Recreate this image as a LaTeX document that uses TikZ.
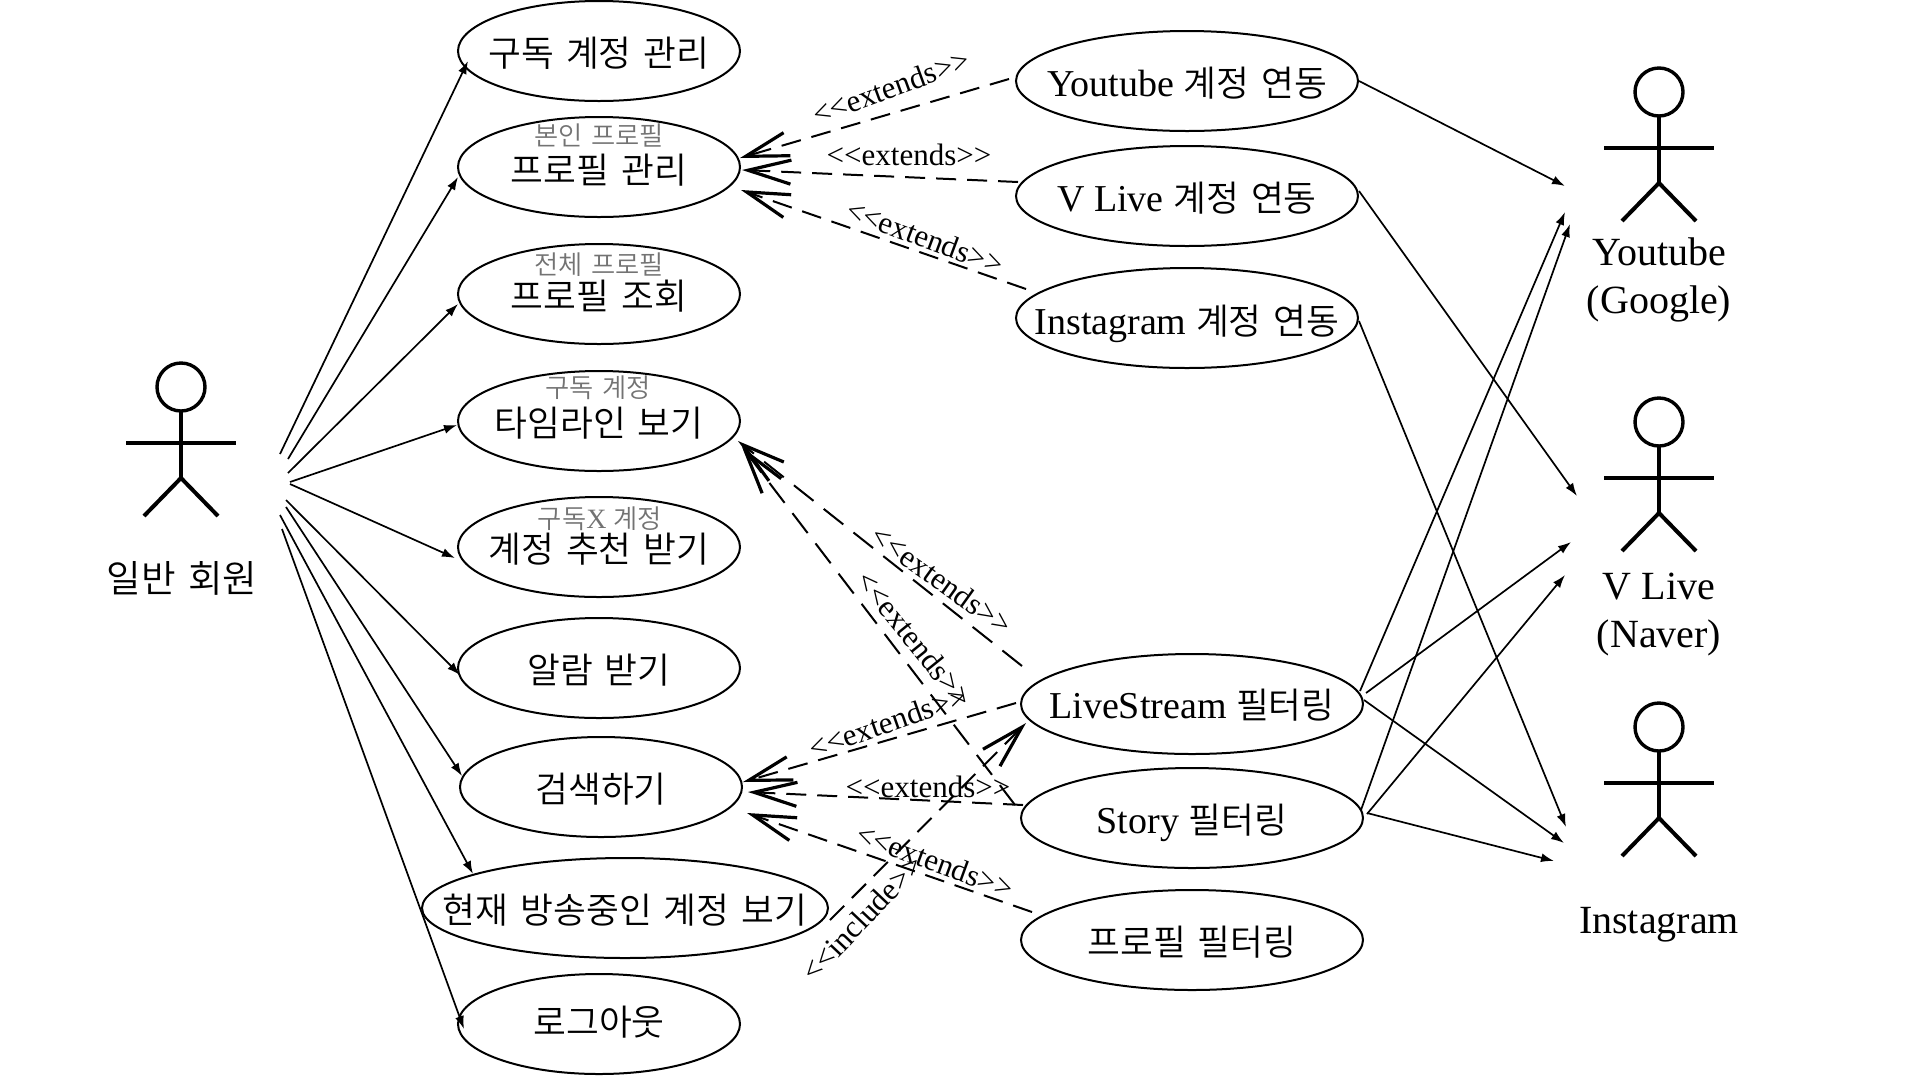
\documentclass[tikz,border=0pt]{standalone}
\usepackage{fontspec}
\usetikzlibrary{shapes.geometric,arrows.meta}
\setmainfont{Liberation Serif}[Ligatures=TeXOff]
\newfontfamily\krf[Scale=0.94,WordSpace=1.5]{Noto Sans CJK KR DemiLight}
\newcommand{\kr}[1]{{\krf #1}}
\newcommand{\tx}[2][15.2pt]{\raisebox{-#1}[0pt][0pt]{\makebox[0pt]{#2}}}
\tikzset{
  uc/.style={ellipse,draw,line width=2pt,inner sep=0pt,minimum height=100pt,font=\fontsize{38}{44}\selectfont},
  ucs/.style={uc,minimum width=282pt},
  ucw/.style={uc,minimum width=342pt},
  sub/.style={font=\fontsize{28}{30}\selectfont,text=black!55,inner sep=0pt},
  lbl/.style={font=\fontsize{40}{48}\selectfont,inner sep=0pt,align=center},
  stereo/.style={font=\fontsize{31}{34}\selectfont,inner sep=0pt},
  assoc/.style={line width=1.7pt,-{Latex[length=13pt,width=9pt]}},
  dep/.style={line width=2pt,dash pattern=on 20pt off 11pt,-{Straight Barb[length=43pt,width=24pt,line width=3.2pt]}},
  deplong/.style={dep,dash pattern=on 25pt off 13pt},
  lim/.style={line width=4pt}
}
\newcommand{\stick}[3]{% name, x, head y
  \node[circle,draw,line width=3.4pt,minimum size=48pt,inner sep=0pt] (#1h) at (#2,#3) {};
  \coordinate (#1n) at (#2,#3+24);
  \coordinate (#1p) at (#2,#3+91);
  \coordinate (#1al) at (#2-55,#3+56);
  \coordinate (#1ar) at (#2+55,#3+56);
  \coordinate (#1fl) at (#2-37,#3+129);
  \coordinate (#1fr) at (#2+37,#3+129);
  \draw[lim] (#1n)--(#1p);
  \draw[lim] (#1al)--(#1ar);
  \draw[lim] (#1fl)--(#1p)--(#1fr);
}
\begin{document}
\begin{tikzpicture}[x=1pt,y=-1pt]
\useasboundingbox (0,0) rectangle (1920,1080);
% use cases, left
\node[ucs] (u1) at (599,51) {\tx{\kr{구독 계정 관리}}};
\node[ucs] (u2) at (599,167) {\tx[16.7pt]{\kr{프로필 관리}}};
\node[ucs] (u3) at (599,294) {\tx{\kr{프로필 조회}}};
\node[ucs] (u4) at (599,421) {\tx{\kr{타임라인 보기}}};
\node[ucs] (u5) at (599,547) {\tx{\kr{계정 추천 받기}}};
\node[ucs] (u6) at (599,668) {\tx{\kr{알람 받기}}};
\node[ucs] (u7) at (601,787) {\tx{\kr{검색하기}}};
\node[uc,minimum width=406pt] (u8) at (625,908) {\tx{\kr{현재 방송중인 계정 보기}}};
\node[ucs] (u9) at (599,1024) {\tx[11.5pt]{\kr{로그아웃}}};
% sub labels
\node[sub] (s2) at (599,135) {\kr{본인 프로필}};
\node[sub] (s3) at (599,265) {\kr{전체 프로필}};
\node[sub] (s4) at (598,388) {\kr{구독 계정}};
\node[sub] (s5) at (600,519) {\kr{구독}X \kr{계정}};
% use cases, right
\node[ucw] (r1) at (1187,81) {\tx{Youtube \kr{계정 연동}}};
\node[ucw] (r2) at (1187,196) {\tx{V Live \kr{계정 연동}}};
\node[ucw] (r3) at (1187,318) {\tx[16pt]{Instagram \kr{계정 연동}}};
\node[ucw] (f1) at (1192,704) {\tx[14.5pt]{LiveStream \kr{필터링}}};
\node[ucw] (f2) at (1192,818) {\tx[15.5pt]{Story \kr{필터링}}};
\node[ucw] (f3) at (1192,940) {\tx{\kr{프로필 필터링}}};
% actors
\stick{m}{181}{387}
\stick{y}{1659}{92}
\stick{v}{1659}{422}
\stick{i}{1659}{727}
\node[lbl] (lm) at (182,578) {\kr{일반 회원}};
\node[lbl] (ly) at (1659,280) {Youtube\\(Google)};
\node[lbl] (lv) at (1659,615) {V Live\\(Naver)};
\node[lbl] (li) at (1659,925) {Instagram};
% free ends
\coordinate (a1) at (280,454); \coordinate (b1) at (468,61);
\coordinate (a2) at (288,459); \coordinate (b2) at (458,177);
\coordinate (a3) at (288,473); \coordinate (b3) at (458,304);
\coordinate (a4) at (290,482); \coordinate (b4) at (457,425);
\coordinate (a5) at (290,484); \coordinate (b5) at (455,558);
\coordinate (a6) at (286,500); \coordinate (b6) at (460,675);
\coordinate (a7) at (286,507); \coordinate (b7) at (462,776);
\coordinate (a8) at (280,515); \coordinate (b8) at (473,874);
\coordinate (a9) at (282,529); \coordinate (b9) at (464,1029);
\foreach \k in {1,...,9} \draw[assoc] (a\k) -- (b\k);
% external associations
\coordinate (c1) at (1359,81);  \coordinate (d1) at (1565,186);
\coordinate (c2) at (1359,191); \coordinate (d2) at (1577,496);
\coordinate (c3) at (1359,321); \coordinate (d3) at (1566,827);
\coordinate (c4) at (1360,691); \coordinate (d4) at (1565,212);
\coordinate (c5) at (1366,693); \coordinate (d5) at (1571,542);
\coordinate (c6) at (1364,700); \coordinate (d6) at (1564,843);
\coordinate (c7) at (1361,810); \coordinate (d7) at (1570,224);
\coordinate (c8) at (1367,814); \coordinate (d8) at (1565,575);
\coordinate (c9) at (1367,813); \coordinate (d9) at (1554,861);
\foreach \k in {1,...,9} \draw[assoc] (c\k) -- (d\k);
% dependency ends
\coordinate (e1) at (1009,79);  \coordinate (g1) at (740,158);
\coordinate (e2) at (1018,182); \coordinate (g2) at (742,170);
\coordinate (e3) at (1026,289); \coordinate (g3) at (741,190);
\coordinate (e4) at (1022,666); \coordinate (g4) at (738,441);
\coordinate (e5) at (1015,805); \coordinate (g5) at (742,447);
\coordinate (e6) at (1016,703); \coordinate (g6) at (743,782);
\coordinate (e7) at (1023,805); \coordinate (g7) at (748,792);
\coordinate (e8) at (1032,912); \coordinate (g8) at (747,813);
\coordinate (e9) at (830,920);  \coordinate (g9) at (1026,723);
\draw[dep] (e1) -- (g1);
\draw[dep] (e2) -- (g2);
\draw[dep] (e3) -- (g3);
\draw[deplong] (e4) -- (g4);
\draw[deplong] (e5) -- (g5);
\draw[dep] (e6) -- (g6);
\draw[dep] (e7) -- (g7);
\draw[dep] (e8) -- (g8);
\draw[dep] (e9) -- (g9);
% stereotype labels
\node[stereo,rotate=20] (t1) at (891,87) {<<extends>>};
\node[stereo] (t2) at (909,155) {<<extends>>};
\node[stereo,rotate=-20.5] (t3) at (925,237) {<<extends>>};
\node[stereo,rotate=-35.6] (t4) at (942,580) {<<extends>>};
\node[stereo,rotate=-51] (t5) at (915,639) {<<extends>>};
\node[stereo,rotate=19.3] (t6) at (888,722) {<<extends>>};
\node[stereo] (t7) at (928,787) {<<extends>>};
\node[stereo,rotate=-20] (t8) at (935,861) {<<extends>>};
\node[stereo,rotate=46.5] (t9) at (862,918) {<<include>>};
\end{tikzpicture}
\end{document}
